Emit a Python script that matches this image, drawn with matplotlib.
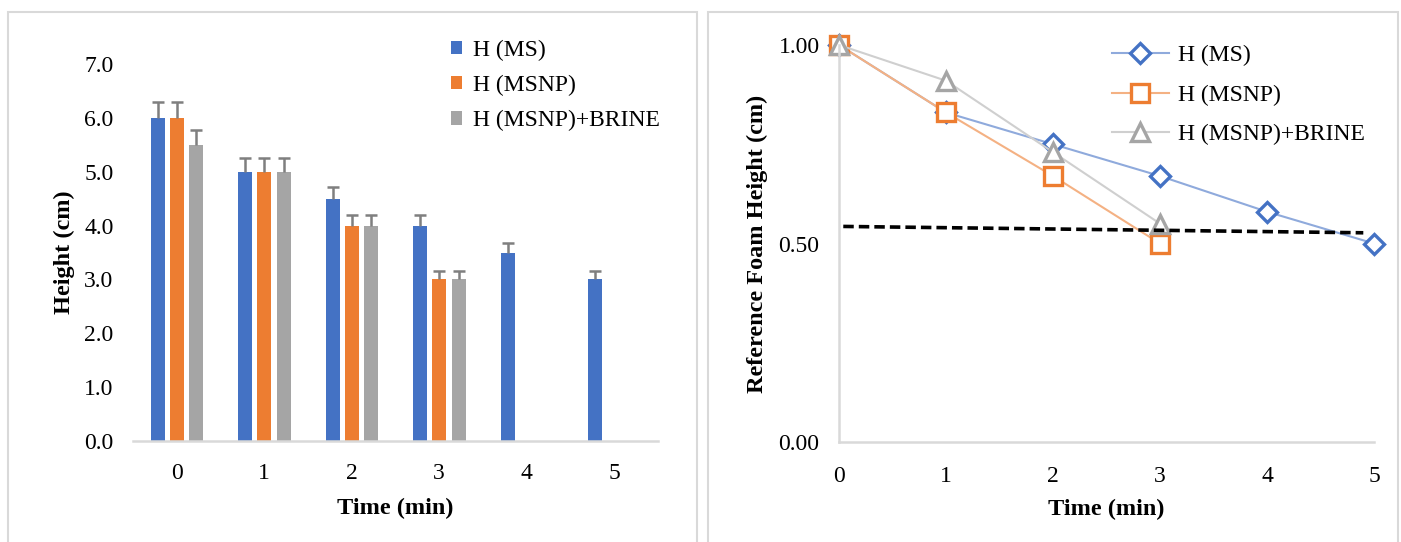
import numpy as np
import matplotlib
matplotlib.use('Agg')
import matplotlib.pyplot as plt
from matplotlib.patches import Rectangle

plt.rcParams['font.family'] = ['Liberation Serif', 'DejaVu Serif']

# Foam height data
times = [0, 1, 2, 3, 4, 5]
h_ms = [6.0, 5.0, 4.5, 4.0, 3.5, 3.0]
h_ms_err = [0.3, 0.25, 0.225, 0.2, 0.175, 0.15]
times_np = [0, 1, 2, 3]
h_msnp = [6.0, 5.0, 4.0, 3.0]
h_msnp_err = [0.3, 0.25, 0.2, 0.15]
h_brine = [5.5, 5.0, 4.0, 3.0]
h_brine_err = [0.275, 0.25, 0.2, 0.15]

# Reference (normalised) foam height
ref_ms = [1.00, 0.83, 0.75, 0.67, 0.58, 0.50]
ref_msnp = [1.00, 0.83, 0.67, 0.50]
ref_brine = [1.00, 0.91, 0.73, 0.55]
limit_x = [0.04, 4.9]
limit_y = [0.543, 0.527]

labels = ['H (MS)', 'H (MSNP)', 'H (MSNP)+BRINE']
blue = '#4472C4'
orange = '#ED7D31'
gray = '#A5A5A5'
axis_gray = '#D9D9D9'
err_gray = '#7F7F7F'

W, H = 1401, 542
fig = plt.figure(figsize=(W / 100, H / 100), dpi=100)

# panel borders
fig.add_artist(Rectangle((8 / W, -0.05), 689 / W, 1.05 - 12 / H, transform=fig.transFigure,
                         fill=False, edgecolor=axis_gray, linewidth=1.5))
fig.add_artist(Rectangle((708 / W, -0.05), 690 / W, 1.05 - 12 / H, transform=fig.transFigure,
                         fill=False, edgecolor=axis_gray, linewidth=1.5))


def bars_with_error(ax, xpos, values, errors, color, label):
    # bar plus an upward-only error bar with a cap at the top
    ax.bar(xpos, values, 0.16, color=color, label=label)
    ax.errorbar(xpos, values, yerr=[np.zeros(len(values)), errors], fmt='none',
                ecolor=err_gray, elinewidth=1.8, capsize=0)
    ax.plot(xpos, np.array(values) + np.array(errors), linestyle='none', marker='_',
            markersize=9, markeredgewidth=1.8, color=err_gray)


# ---- left: bar chart ----
ax1 = fig.add_axes([133 / W, (H - 441) / H, 525 / W, 377 / H])
x = np.array(times)
xn = np.array(times_np)
step = 0.22

bars_with_error(ax1, x - step, h_ms, h_ms_err, blue, labels[0])
bars_with_error(ax1, xn, h_msnp, h_msnp_err, orange, labels[1])
bars_with_error(ax1, xn + step, h_brine, h_brine_err, gray, labels[2])

ax1.set_xlim(-0.5, 5.5)
ax1.set_ylim(0, 7.0)
ax1.set_xticks(times)
ax1.set_yticks(np.arange(0, 7.5, 1.0))
ax1.set_yticklabels(['%.1f' % v for v in np.arange(0, 7.5, 1.0)])
for side in ['top', 'right', 'left']:
    ax1.spines[side].set_visible(False)
ax1.spines['bottom'].set_color(axis_gray)
ax1.spines['bottom'].set_linewidth(1.8)
ax1.tick_params(length=0, labelsize=17)
ax1.tick_params(axis='x', pad=16)
ax1.tick_params(axis='y', pad=14)
ax1.set_xlabel('Time (min)', fontsize=17.5, fontweight='bold', va='center')
ax1.xaxis.set_label_coords(0.5, -0.179)
ax1.set_ylabel('Height (cm)', fontsize=17.5, fontweight='bold', va='center')
ax1.yaxis.set_label_coords(-0.13, 0.5)
ax1.legend(loc='upper left', bbox_to_anchor=(0.605, 1.065), frameon=False, fontsize=17,
           handlelength=0.5, handleheight=0.5, handletextpad=0.45, labelspacing=0.6,
           borderpad=0, borderaxespad=0)

# ---- right: line chart ----
ax2 = fig.add_axes([839 / W, (H - 442) / H, 535 / W, 397 / H])
mk = dict(markerfacecolor='white', markeredgewidth=2.4, linewidth=1.5, clip_on=False)
ax2.plot(times, ref_ms, color='#8FAADC', marker='D', markersize=10.5,
         markeredgecolor=blue, label=labels[0], **mk)
ax2.plot(times_np, ref_msnp, color='#F4B183', marker='s', markersize=12.5,
         markeredgecolor=orange, label=labels[1], **mk)
ax2.plot(times_np, ref_brine, color='#CFCFCF', marker='^', markersize=13,
         markeredgecolor=gray, label=labels[2], **mk)
ax2.plot(limit_x, limit_y, color='black', linewidth=2.6, linestyle=(0, (2.9, 1.4)))

ax2.set_xlim(0, 5)
ax2.set_ylim(0, 1.0)
ax2.set_xticks(times)
ax2.set_yticks([0, 0.5, 1.0])
ax2.set_yticklabels(['0.00', '0.50', '1.00'])
for side in ['top', 'right']:
    ax2.spines[side].set_visible(False)
for side in ['left', 'bottom']:
    ax2.spines[side].set_color(axis_gray)
    ax2.spines[side].set_linewidth(1.8)
ax2.tick_params(length=0, labelsize=17)
ax2.tick_params(axis='x', pad=17)
ax2.tick_params(axis='y', pad=14)
ax2.set_xlabel('Time (min)', fontsize=17.5, fontweight='bold', va='center')
ax2.xaxis.set_label_coords(0.5, -0.171)
ax2.set_ylabel('Reference Foam Height (cm)', fontsize=17.5, fontweight='bold', va='center')
ax2.yaxis.set_label_coords(-0.153, 0.5)
ax2.legend(loc='upper left', bbox_to_anchor=(0.51, 1.0), frameon=False, fontsize=17,
           handlelength=2.4, handletextpad=0.4, labelspacing=0.75,
           borderpad=0, borderaxespad=0)

fig.savefig('out.png', dpi=100)
